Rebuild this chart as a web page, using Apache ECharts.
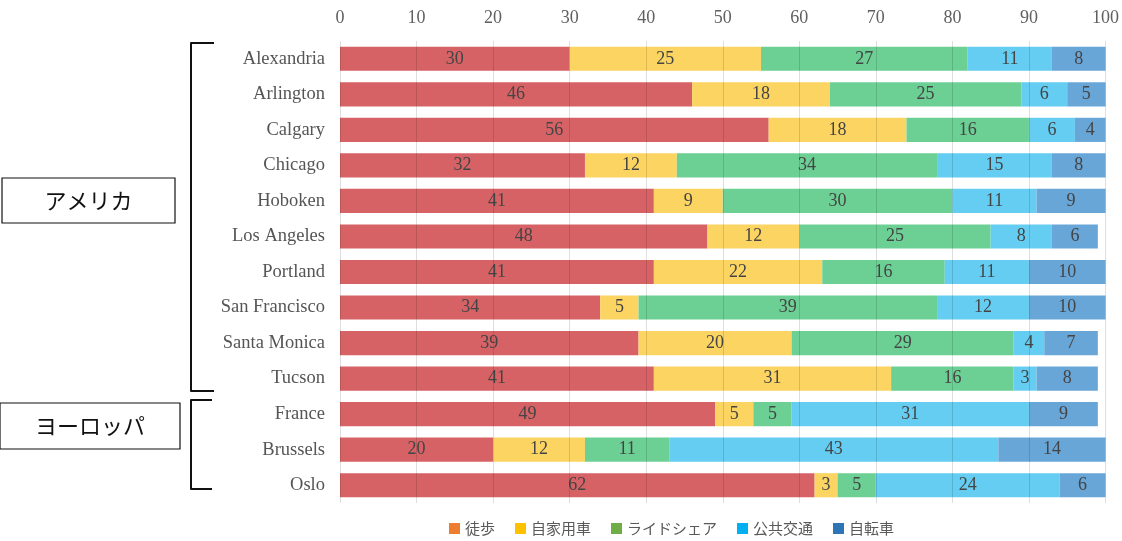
<!DOCTYPE html>
<html>
<head>
<meta charset="utf-8">
<script src="https://cdn.jsdelivr.net/npm/echarts@6/dist/echarts.min.js"></script>
<style>
  html, body { margin: 0; padding: 0; background: #fff; }
  #chart { width: 1122px; height: 541px; }
</style>
</head>
<body>
<div id="chart"></div>
<script>
// Cities, top to bottom
const cities = ['Alexandria', 'Arlington', 'Calgary', 'Chicago', 'Hoboken', 'Los Angeles',
  'Portland', 'San Francisco', 'Santa Monica', 'Tucson', 'France', 'Brussels', 'Oslo'];

// Mode share (%) per city
const walk    = [30, 46, 56, 32, 41, 48, 41, 34, 39, 41, 49, 20, 62];
const car     = [25, 18, 18, 12,  9, 12, 22,  5, 20, 31,  5, 12,  3];
const share   = [27, 25, 16, 34, 30, 25, 16, 39, 29, 16,  5, 11,  5];
const transit = [11,  6,  6, 15, 11,  8, 11, 12,  4,  3, 31, 43, 24];
const bike    = [ 8,  5,  4,  8,  9,  6, 10, 10,  7,  8,  9, 14,  6];

const seriesNames = ['徒歩', '自家用車', 'ライドシェア', '公共交通', '自転車'];
const barColors = ['#D66266', '#FCD461', '#6CCF94', '#65CDF2', '#69A6D8'];
const legendColors = ['#ED7D31', '#FFC000', '#70AD47', '#00B0F0', '#2E75B6'];

const serif = '"Liberation Serif", "DejaVu Serif", serif';
const jp = '"Noto Sans CJK JP", "Noto Sans", sans-serif';

const chart = echarts.init(document.getElementById('chart'));

const values = [walk, car, share, transit, bike];
const series = values.map((v, i) => ({
  name: seriesNames[i],
  type: 'bar',
  stack: 'total',
  barWidth: '68%',
  data: v,
  itemStyle: { color: barColors[i] },
  label: {
    show: true,
    position: 'inside',
    color: '#444',
    fontFamily: serif,
    fontSize: 18
  },
  emphasis: { disabled: true }
}));

// brackets grouping the cities by region
function bracket(x1, y1, x2, y2) {
  return {
    type: 'polyline',
    shape: { points: [[x2, y1], [x1, y1], [x1, y2], [x2, y2]] },
    style: { stroke: '#111', lineWidth: 2, fill: null, lineJoin: 'round' }
  };
}
function labelBox(x, y, w, h, text) {
  return {
    type: 'group',
    children: [
      { type: 'rect', shape: { x: x, y: y, width: w, height: h },
        style: { fill: '#fff', stroke: '#111', lineWidth: 1.2 } },
      { type: 'text', x: x + w / 2, y: y + h / 2,
        style: { text: text, font: '22px ' + jp, fill: '#111', align: 'center', verticalAlign: 'middle' } }
    ]
  };
}

chart.setOption({
  animation: false,
  grid: { left: 340, right: 15, top: 41, bottom: 38, containLabel: false },
  xAxis: {
    type: 'value',
    position: 'top',
    min: 0, max: 100, interval: 10,
    z: 5,
    axisLine: { show: false },
    axisTick: { show: false },
    axisLabel: { color: '#606060', fontFamily: serif, fontSize: 18, margin: 14 },
    splitLine: { show: true, lineStyle: { color: 'rgba(0,0,0,0.13)', width: 1 } }
  },
  yAxis: {
    type: 'category',
    data: cities,
    inverse: true,
    axisLine: { show: false },
    axisTick: { show: false },
    axisLabel: { color: '#555', fontFamily: serif, fontSize: 18.5, margin: 15 }
  },
  legend: {
    bottom: 0,
    left: 444,
    itemWidth: 11,
    itemHeight: 11,
    itemGap: 20,
    icon: 'rect',
    textStyle: { color: '#595959', fontFamily: jp, fontSize: 15 },
    data: seriesNames.map((n, i) => ({ name: n, itemStyle: { color: legendColors[i] } }))
  },
  graphic: [
    bracket(191, 43, 214, 391),
    bracket(191, 400, 212, 489),
    labelBox(2, 178, 173, 45, 'アメリカ'),
    labelBox(0, 403, 180, 46, 'ヨーロッパ')
  ],
  series: series
});
</script>
</body>
</html>
